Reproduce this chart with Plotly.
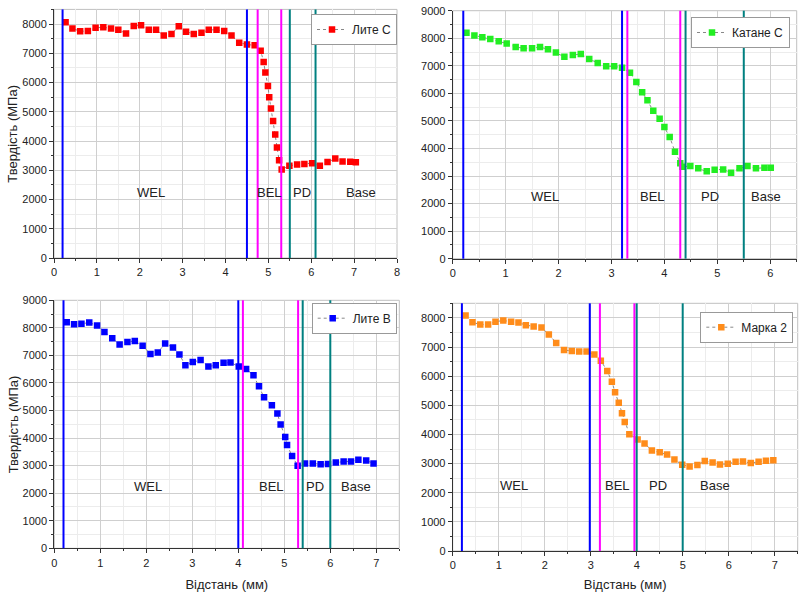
import plotly.graph_objects as go

FONT = "Liberation Sans, Arial, sans-serif"

# ---- data ----
lc_x = [0.27,0.43,0.61,0.79,0.97,1.15,1.33,1.50,1.68,1.86,2.03,2.21,2.38,2.56,2.74,2.91,3.08,3.26,3.44,3.61,3.79,3.97,4.14,4.32,4.50,4.68,4.82,4.89,4.93,4.99,5.02,5.06,5.11,5.16,5.20,5.25,5.31,5.49,5.67,5.84,6.02,6.20,6.38,6.56,6.73,6.91,7.04]
lc_y = [8060,7850,7750,7760,7870,7890,7850,7800,7680,7930,7960,7800,7800,7610,7660,7920,7740,7660,7700,7800,7800,7760,7610,7360,7300,7270,7090,6700,6340,5880,5500,5110,4680,4220,3780,3340,3030,3150,3200,3210,3240,3150,3280,3400,3300,3290,3270]

kc_x = [0.26,0.41,0.56,0.71,0.87,1.02,1.19,1.34,1.50,1.65,1.80,1.95,2.11,2.27,2.42,2.58,2.74,2.90,3.05,3.20,3.35,3.47,3.58,3.68,3.79,3.91,4.00,4.10,4.20,4.30,4.34,4.49,4.64,4.80,4.95,5.11,5.26,5.42,5.57,5.73,5.89,6.01]
kc_y = [8200,8100,8040,7970,7890,7810,7680,7640,7640,7680,7600,7480,7330,7390,7430,7250,7100,6980,6980,6930,6750,6410,6040,5750,5370,5080,4780,4420,3880,3460,3340,3360,3280,3170,3230,3240,3120,3280,3360,3280,3300,3300]

lb_x = [0.27,0.43,0.59,0.76,0.93,1.09,1.26,1.42,1.59,1.75,1.92,2.09,2.25,2.41,2.58,2.72,2.85,3.01,3.18,3.35,3.51,3.68,3.83,4.01,4.17,4.33,4.45,4.56,4.73,4.85,4.92,5.02,5.06,5.17,5.29,5.45,5.62,5.79,5.95,6.12,6.29,6.45,6.61,6.78,6.94]
lb_y = [8200,8130,8150,8190,8090,7850,7620,7400,7490,7520,7350,7050,7110,7430,7290,7030,6640,6760,6830,6600,6640,6730,6740,6600,6510,6280,5880,5480,5190,4890,4490,4040,3750,3350,3000,3080,3080,3050,3060,3110,3150,3150,3210,3190,3080]

m2_x = [0.28,0.43,0.60,0.77,0.93,1.10,1.27,1.43,1.59,1.76,1.93,2.09,2.25,2.42,2.59,2.75,2.91,3.08,3.22,3.36,3.46,3.53,3.61,3.68,3.74,3.84,4.02,4.17,4.33,4.50,4.66,4.82,4.99,5.15,5.32,5.48,5.65,5.81,5.98,6.15,6.31,6.48,6.65,6.81,6.97]
m2_y = [8080,7850,7770,7770,7870,7910,7870,7840,7750,7700,7670,7430,7140,6900,6860,6850,6850,6740,6530,6180,5810,5450,5090,4730,4430,4010,3830,3690,3450,3390,3310,3140,2960,2900,2950,3090,3040,2970,2990,3060,3070,3020,3060,3100,3110]

series_names = ["Лите C", "Катане C", "Лите B", "Марка 2"]

# zone boundaries: [blue, blue, magenta, magenta, teal, teal]
bounds_lc = [0.2, 4.5, 4.75, 5.3, 5.5, 6.1]
bounds_kc = [0.2, 3.2, 3.3, 4.3, 4.4, 5.5]
bounds_lb = [0.2, 4.0, 4.1, 5.3, 5.4, 6.0]
bounds_m2 = [0.2, 2.98, 3.2, 3.95, 4.0, 5.0]

zone_names = ["WEL", "BEL", "PD", "Base"]
zone_x_lc = [2.26, 5.02, 5.78, 7.17]
zone_x_kc = [1.74, 3.77, 4.87, 5.92]
zone_x_lb = [2.03, 4.72, 5.66, 6.55]
zone_x_m2 = [1.33, 3.58, 4.47, 5.71]
zone_y = 2250

y_title = "Твердість (МПа)"
x_title = "Відстань (мм)"

# ---- styling ----
W, H = 806, 592
def px(x0, x1): return [x0 / W, x1 / W]
def py(y0, y1): return [1 - y1 / H, 1 - y0 / H]

panels = [
    dict(x=lc_x, y=lc_y, color="#ff0000", bounds=bounds_lc, zx=zone_x_lc,
         xd=px(54, 397), yd=py(9.4, 258), xr=[0, 8], yr=[0, 8500],
         leg=(397, 14), ytitle=True, xtitle=False),
    dict(x=kc_x, y=kc_y, color="#22ee22", bounds=bounds_kc, zx=zone_x_kc,
         xd=px(452.7, 796.7), yd=py(10.7, 258.7), xr=[0, 6.5], yr=[0, 9000],
         leg=(790, 17), ytitle=False, xtitle=False),
    dict(x=lb_x, y=lb_y, color="#0000ff", bounds=bounds_lb, zx=zone_x_lb,
         xd=px(54.3, 399.3), yd=py(300.3, 548.3), xr=[0, 7.5], yr=[0, 9000],
         leg=(396.7, 302.7), ytitle=True, xtitle=True),
    dict(x=m2_x, y=m2_y, color="#ff8c1a", bounds=bounds_m2, zx=zone_x_m2,
         xd=px(452.7, 797.7), yd=py(303.3, 551), xr=[0, 7.5], yr=[0, 8500],
         leg=(793.3, 311.7), ytitle=False, xtitle=True),
]
bound_colors = ["#0000ff", "#0000ff", "#ff00ff", "#ff00ff", "#008080", "#008080"]

fig = go.Figure()
layout = dict(width=W, height=H, margin=dict(l=0, r=0, t=0, b=0, autoexpand=False),
              paper_bgcolor="white", plot_bgcolor="white",
              font=dict(family=FONT, size=11, color="#222"), showlegend=True)
shapes, annotations = [], []

for i, p in enumerate(panels):
    n = i + 1
    xa = "x" if n == 1 else f"x{n}"
    ya = "y" if n == 1 else f"y{n}"
    leg = "legend" if n == 1 else f"legend{n}"
    fig.add_trace(go.Scatter(
        x=p["x"], y=p["y"], mode="lines+markers", name=series_names[i],
        xaxis=xa, yaxis=ya, legend=leg,
        line=dict(color="#888888", width=1, dash="dot"),
        marker=dict(symbol="square", size=6.5, color=p["color"]),
    ))
    axis_common = dict(showline=True, linecolor="#333", linewidth=1, ticks="outside",
                       ticklen=4, tickcolor="#333", gridcolor="#cfcfcf", zeroline=False,
                       automargin=False,
                       tickfont=dict(family=FONT, size=11, color="#222"))
    layout["xaxis" if n == 1 else f"xaxis{n}"] = dict(
        domain=p["xd"], anchor=ya, range=p["xr"], dtick=1, tick0=0,
        minor=dict(dtick=0.5, showgrid=True, gridcolor="#ececec", ticks="outside", ticklen=2, tickcolor="#333"),
        title=dict(text=x_title if p["xtitle"] else "", font=dict(family=FONT, size=13, color="#222")),
        **axis_common)
    layout["yaxis" if n == 1 else f"yaxis{n}"] = dict(
        domain=p["yd"], anchor=xa, range=p["yr"], dtick=1000, tick0=0,
        minor=dict(dtick=500, showgrid=True, gridcolor="#ececec", ticks="outside", ticklen=2, tickcolor="#333"),
        **axis_common)
    if p["ytitle"]:
        annotations.append(dict(x=13 / W, y=sum(p["yd"]) / 2, xref="paper", yref="paper",
                                text=y_title, textangle=-90, showarrow=False,
                                xanchor="center", yanchor="middle",
                                font=dict(family=FONT, size=13, color="#222")))
    layout[leg] = dict(x=p["leg"][0] / W, y=1 - p["leg"][1] / H, xanchor="right", yanchor="top",
                       xref="paper", yref="paper", bgcolor="white", bordercolor="#999",
                       borderwidth=1, font=dict(family=FONT, size=12, color="#222"),
                       itemwidth=30, tracegroupgap=0)
    # frame (top/right light border)
    shapes.append(dict(type="rect", xref=f"{xa} domain", yref=f"{ya} domain", x0=0, x1=1, y0=0, y1=1,
                       line=dict(color="#c0c0c0", width=1), layer="below"))
    for b, c in zip(p["bounds"], bound_colors):
        shapes.append(dict(type="line", xref=xa, yref=f"{ya} domain", x0=b, x1=b, y0=0, y1=1,
                           line=dict(color=c, width=2)))
    for zn, zx in zip(zone_names, p["zx"]):
        annotations.append(dict(x=zx, y=zone_y, xref=xa, yref=ya, text=zn, showarrow=False,
                                font=dict(family=FONT, size=13, color="#222")))

layout["shapes"] = shapes
layout["annotations"] = annotations
fig.update_layout(**layout)
fig.write_html("out.html", config={"displayModeBar": False},
               post_script="document.body.style.margin='0';document.body.style.padding='0';")
